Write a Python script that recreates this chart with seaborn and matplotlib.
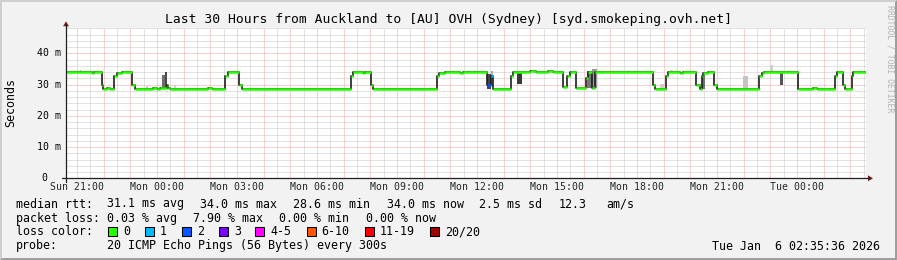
import matplotlib
matplotlib.use("Agg")
import numpy as np
import pandas as pd
import matplotlib.pyplot as plt
import matplotlib.transforms as mtransforms
import seaborn as sns
from matplotlib.lines import Line2D
from matplotlib.patches import Polygon, Rectangle
from matplotlib.ticker import MultipleLocator, FuncFormatter

# ---------------- data ----------------
# time in hours since Sun 00:00 (local), value in ms
start_hour = 20.593   # Sun 20:35:36
end_hour = 50.593     # Tue 02:35:36

t_hours = [20.593, 21.57, 21.645, 21.934, 21.994, 22.133, 22.245, 22.406, 22.496, 22.684,
           23.081, 23.171, 23.869, 23.996, 24.12, 24.371, 24.431, 24.495, 25.92, 26.07,
           26.558, 26.651, 27.083, 27.176, 31.264, 31.346, 31.733, 31.808, 32.033, 32.119,
           34.489, 34.594, 34.808, 35.37, 35.483, 36.394, 36.521, 36.619, 37.271, 37.346,
           37.995, 38.22, 38.67, 38.858, 39.221, 39.394, 39.495, 39.709, 40.095, 40.181,
           40.32, 40.433, 42.596, 42.683, 43.084, 43.181, 43.62, 43.733, 44.209, 44.37,
           44.434, 44.494, 44.67, 44.906, 44.996, 46.594, 46.684, 46.77, 48.056, 48.608,
           48.758, 49.433, 49.496, 49.721, 49.808, 50.059, 50.119]
median_ms = [34.0, 33.7, 34.0, 29.8, 28.6, 29.0, 28.6, 32.7, 33.7, 34.0,
             29.8, 28.6, 29.0, 28.6, 29.0, 29.8, 29.0, 28.6, 28.9, 28.6,
             32.7, 34.0, 29.8, 28.6, 32.7, 34.0, 33.7, 34.0, 29.8, 28.6,
             32.7, 33.7, 34.0, 33.8, 34.0, 29.9, 32.7, 28.6, 32.7, 34.0,
             34.2, 34.0, 34.2, 34.0, 29.2, 32.7, 34.0, 29.0, 32.2, 34.0,
             29.0, 34.0, 29.8, 28.6, 32.7, 34.0, 33.7, 34.0, 29.8, 28.6,
             32.7, 33.7, 34.0, 29.8, 28.6, 32.7, 33.7, 34.0, 28.6, 28.9,
             28.6, 32.7, 34.0, 29.8, 28.6, 32.7, 34.0]
loss_count = [0] * len(t_hours)
loss_count[35] = 2
loss_count[36] = 1

# smoke (spread of the 20 pings) blocks
smoke_t0 = [21.12, 23.60, 24.20, 24.29, 24.66, 36.39, 36.52, 37.50, 40.12, 40.32,
            42.87, 43.25, 44.43, 45.97, 47.00, 47.37]
smoke_t1 = [21.20, 23.66, 24.29, 24.39, 24.72, 36.52, 36.62, 37.68, 40.32, 40.50,
            43.02, 43.37, 44.56, 46.15, 47.12, 47.49]
smoke_lo = [34.0, 28.6, 28.6, 28.6, 28.6, 28.6, 29.5, 30.1, 28.9, 29.0,
            28.6, 34.0, 28.6, 28.6, 34.0, 29.8]
smoke_hi = [34.8, 29.4, 33.0, 34.0, 29.8, 33.5, 34.4, 33.9, 34.3, 34.9,
            30.3, 34.8, 33.5, 32.6, 36.2, 33.7]
smoke_shade = ["#c8c8c8", "#d0d0d0", "#6e6e6e", "#4a4a4a", "#d0d0d0", "#444444", "#aaaaaa",
               "#3a3a3a", "#777777", "#9a9a9a", "#cfcfcf", "#cfcfcf", "#707070", "#c4c4c4",
               "#cfcfcf", "#555555"]

loss_labels = ["0", "1", "2", "3", "4-5", "6-10", "11-19", "20/20"]
loss_colors = ["#26ff00", "#00b8ff", "#0059ff", "#7e00ff", "#ff00ff", "#ff5500", "#ff0000", "#a10000"]

ytick_vals = [0, 10, 20, 30, 40]
ytick_labels = ["0", "10 m", "20 m", "30 m", "40 m"]
day_names = ["Sun", "Mon", "Tue"]

title = "Last 30 Hours from Auckland to [AU] OVH (Sydney) [syd.smokeping.ovh.net]"
rtt_stats = ["31.1 ms avg", "34.0 ms max", "28.6 ms min", "34.0 ms now", "2.5 ms sd", "12.3", "am/s"]
loss_stats = ["0.03 % avg", "7.90 % max", "0.00 % min", "0.00 % now"]
probe_text = "20 ICMP Echo Pings (56 Bytes) every 300s"
stamp_text = "Tue Jan  6 02:35:36 2026"
watermark = "RRDTOOL / TOBI OETIKER"

# ---------------- style ----------------
sns.set_style("white")
plt.rcParams["font.family"] = ["DejaVu Sans Mono"]
plt.rcParams["text.color"] = "black"

W, H = 897, 260
fig = plt.figure(figsize=(W / 100, H / 100), dpi=100, facecolor="#f2f2f2")


def fx(x):
    return x / W


def fy(y):
    return 1 - y / H


# frame shading
fig.patches.append(Polygon([(fx(0), fy(0)), (fx(W), fy(0)), (fx(W - 2), fy(2)), (fx(2), fy(2)),
                            (fx(2), fy(H - 2)), (fx(0), fy(H))], closed=True,
                           transform=fig.transFigure, color="#cfcfcf", lw=0))
fig.patches.append(Polygon([(fx(W), fy(0)), (fx(W), fy(H)), (fx(0), fy(H)), (fx(2), fy(H - 2)),
                            (fx(W - 2), fy(H - 2)), (fx(W - 2), fy(2))], closed=True,
                           transform=fig.transFigure, color="#9e9e9e", lw=0))

x0, x1, ytop, ybot = 66, 866, 28.3, 178.3
ax = fig.add_axes([fx(x0), fy(ybot), (x1 - x0) / W, (ybot - ytop) / H])
ax.set_facecolor("white")
ax.set_xlim(start_hour, end_hour)
ax.set_ylim(0, 48)
for s in ax.spines.values():
    s.set_visible(False)

ax.xaxis.set_major_locator(MultipleLocator(1))
ax.xaxis.set_minor_locator(MultipleLocator(0.5))
ax.yaxis.set_major_locator(MultipleLocator(10))
ax.yaxis.set_minor_locator(MultipleLocator(2))
ax.set_axisbelow(True)
ax.grid(which="major", color="#f4a4a4", linestyle=(0, (1, 1)), lw=0.72)
ax.grid(which="minor", color="#c6c6c6", linestyle=(0, (1, 1)), lw=0.72)


def xfmt(h, pos):
    hr = int(round(h))
    if hr % 3 != 0:
        return ""
    return f"{day_names[hr // 24]} {hr % 24:02d}:00"


ax.xaxis.set_major_formatter(FuncFormatter(xfmt))
ax.tick_params(axis="x", which="both", length=0, pad=3.0, labelsize=7.1)
ax.tick_params(axis="y", which="both", length=0, labelleft=False)

# smoke
ax.bar(smoke_t0, np.array(smoke_hi) - np.array(smoke_lo),
       width=np.array(smoke_t1) - np.array(smoke_t0), bottom=smoke_lo,
       align="edge", color=smoke_shade, lw=0, zorder=2)

# median: dark steps (transitions) + coloured level segments
df = pd.DataFrame({"t": t_hours + [end_hour], "ms": median_ms + [median_ms[-1]]})
sns.lineplot(data=df, x="t", y="ms", drawstyle="steps-post", color="#1e1e1e", lw=1.2,
             estimator=None, sort=False, ax=ax, zorder=3)
ax.hlines(median_ms, t_hours, t_hours[1:] + [end_hour],
          colors=[loss_colors[c] for c in loss_count], lw=1.8, zorder=4)
ax.set_xlabel("")
ax.set_ylabel("")

# y tick labels
ytr = mtransforms.blended_transform_factory(fig.transFigure, ax.transData)
for v, lab in zip(ytick_vals, ytick_labels):
    xr = 47.5 if lab == "0" else 60.5
    ax.text(fx(xr), v, lab, transform=ytr, ha="right", va="center", fontsize=7.1, clip_on=False)

# axes lines and arrows
axis_col = "#1f1f1f"
arrow_col = "#801f1f"
fig.add_artist(Line2D([fx(x0 - 4), fx(x1 + 4)], [fy(ybot), fy(ybot)], color=axis_col, lw=0.9))
fig.add_artist(Line2D([fx(x0), fx(x0)], [fy(ybot + 4), fy(ytop - 4)], color=axis_col, lw=0.9))
fig.patches.append(Polygon([(fx(x1 + 2), fy(ybot - 3)), (fx(x1 + 2), fy(ybot + 3)), (fx(x1 + 7), fy(ybot))],
                           closed=True, transform=fig.transFigure, color=arrow_col, lw=0))
fig.patches.append(Polygon([(fx(x0 - 3), fy(ytop - 2)), (fx(x0 + 3), fy(ytop - 2)), (fx(x0), fy(ytop - 7))],
                           closed=True, transform=fig.transFigure, color=arrow_col, lw=0))

# texts
fig.text(fx(448), fy(19.3), title, ha="center", va="center", fontsize=9.4)
fig.text(fx(11), fy(103), "Seconds", rotation=90, ha="center", va="center", fontsize=8.4)
fig.text(fx(889.5), fy(59), watermark, rotation=270, ha="center", va="center",
         fontsize=5.9, color="#b4b4b4")

lfs = 8.4
fig.text(fx(16), fy(204), "median rtt:", ha="left", va="center", fontsize=lfs)
for xx, s in zip([107.3, 200, 292.7, 386.7, 479.3, 558.3, 606.7], rtt_stats):
    fig.text(fx(xx), fy(204), s, ha="left", va="center", fontsize=lfs)
fig.text(fx(16), fy(218.3), "packet loss:", ha="left", va="center", fontsize=lfs)
for xx, s in zip([107.3, 193.3, 279.3, 365.7], loss_stats):
    fig.text(fx(xx), fy(218.3), s, ha="left", va="center", fontsize=lfs)
fig.text(fx(16), fy(231.7), "loss color:", ha="left", va="center", fontsize=lfs)
for xx, lab, col in zip([123.3, 160, 196.7, 234.3, 270, 321.7, 380, 445], loss_labels, loss_colors):
    fig.patches.append(Rectangle((fx(xx - 15), fy(236.2)), 9 / W, 9 / H, transform=fig.transFigure,
                                 facecolor=col, edgecolor="black", lw=0.75))
    fig.text(fx(xx), fy(231.7), lab, ha="left", va="center", fontsize=lfs)
fig.text(fx(16), fy(246), "probe:", ha="left", va="center", fontsize=lfs)
fig.text(fx(107.3), fy(246), probe_text, ha="left", va="center", fontsize=lfs)
fig.text(fx(880), fy(246), stamp_text, ha="right", va="center", fontsize=lfs)

fig.savefig("out.png", dpi=100, facecolor=fig.get_facecolor())
